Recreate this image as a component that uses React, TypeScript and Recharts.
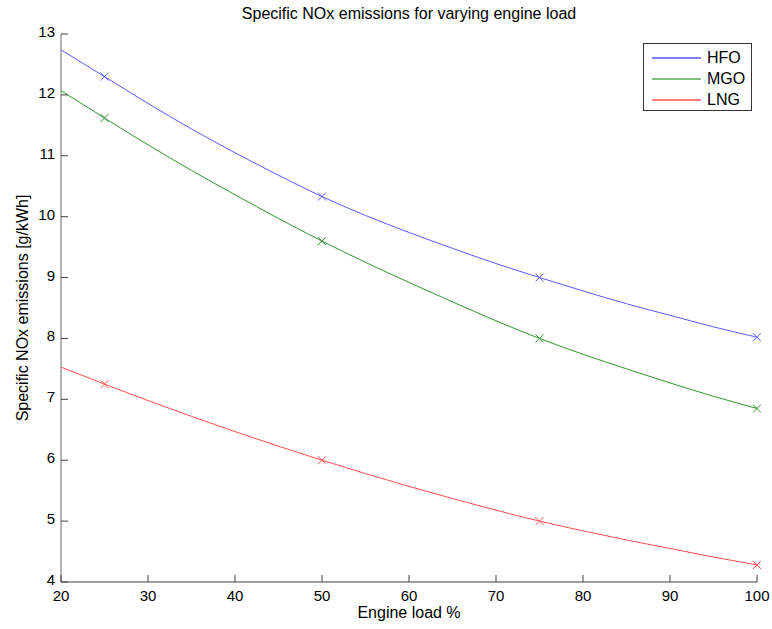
import React from 'react';
import { LineChart, Line, XAxis, YAxis } from 'recharts';

const loads = [20, 25, 30, 35, 40, 45, 50, 55, 60, 65, 70, 75, 80, 85, 90, 95, 100];
const hfo = [12.74, 12.30, 11.86, 11.44, 11.05, 10.68, 10.33, 10.02, 9.74, 9.48, 9.23, 9.00, 8.78, 8.57, 8.38, 8.19, 8.02];
const mgo = [12.07, 11.62, 11.18, 10.76, 10.36, 9.97, 9.60, 9.25, 8.92, 8.60, 8.29, 8.00, 7.74, 7.50, 7.27, 7.05, 6.85];
const lng = [7.53, 7.25, 6.98, 6.72, 6.47, 6.23, 6.00, 5.78, 5.57, 5.37, 5.18, 5.00, 4.84, 4.69, 4.55, 4.41, 4.28];
const markerLoads = [25, 50, 75, 100];
const xTicks = [20, 30, 40, 50, 60, 70, 80, 90, 100];
const yTicks = [4, 5, 6, 7, 8, 9, 10, 11, 12, 13];

const seriesNames = ['HFO', 'MGO', 'LNG'];
const seriesColors = ['#5a5aff', '#2f962f', '#ff5050'];
const legendColors = ['#7f7fff', '#7fbf7f', '#ff7f7f'];

const data = loads.map((l, i) => ({ load: l, HFO: hfo[i], MGO: mgo[i], LNG: lng[i] }));

const FONT = '"Liberation Sans", Arial, Helvetica, sans-serif';

const makeDot = (color: string) => (props: any) => {
  const { cx, cy, payload, index } = props;
  if (!payload || !markerLoads.includes(payload.load)) return <g key={`d${index}`} />;
  const s = 4;
  return (
    <g key={`d${index}`}>
      <line x1={cx - s} y1={cy - s} x2={cx + s} y2={cy + s} stroke={color} strokeWidth={1} />
      <line x1={cx - s} y1={cy + s} x2={cx + s} y2={cy - s} stroke={color} strokeWidth={1} />
    </g>
  );
};

const XTick = (props: any) => {
  const { x, y, payload } = props;
  return (
    <g>
      <line x1={x} y1={y} x2={x} y2={y - 7} stroke="#404040" strokeWidth={1} />
      <text x={x} y={y + 19} textAnchor="middle" fontSize={15} fontFamily={FONT} fill="#000">
        {payload.value}
      </text>
    </g>
  );
};

const YTick = (props: any) => {
  const { x, y, payload } = props;
  return (
    <g>
      <line x1={x} y1={y} x2={x + 7} y2={y} stroke="#404040" strokeWidth={1} />
      <text x={x - 6} y={y + 3} textAnchor="end" fontSize={15} fontFamily={FONT} fill="#000">
        {payload.value}
      </text>
    </g>
  );
};

function LegendBox() {
  return (
    <div
      style={{
        position: 'absolute',
        left: 643,
        top: 43,
        border: '1px solid #333',
        background: '#fff',
        width: 109,
        height: 68,
        boxSizing: 'border-box',
        padding: '3px 0 0 8px',
        fontFamily: FONT,
        fontSize: 16,
      }}
    >
      {seriesNames.map((n, i) => (
        <div key={n} style={{ display: 'flex', alignItems: 'center', height: 21 }}>
          <div style={{ width: 49, height: 2, background: legendColors[i], marginRight: 6 }} />
          <span style={{ color: '#000' }}>{n}</span>
        </div>
      ))}
    </div>
  );
}

export default function App() {
  return (
    <div style={{ position: 'absolute', left: 0, top: 0, width: 772, height: 629, background: '#fff' }}>
      <div
        style={{
          position: 'absolute',
          left: 61,
          width: 696,
          top: 5,
          textAlign: 'center',
          fontFamily: FONT,
          fontSize: 16,
          color: '#000',
        }}
      >
        Specific NOx emissions for varying engine load
      </div>
      <LineChart width={772} height={629} data={data} margin={{ top: 34, right: 15, bottom: 7, left: 0 }}>
        <XAxis
          dataKey="load"
          type="number"
          domain={[20, 100]}
          ticks={xTicks}
          height={40}
          tickSize={0}
          tickMargin={0}
          tickLine={false}
          tick={<XTick />}
          stroke="#404040"
          interval={0}
          label={{ value: 'Engine load %', position: 'insideBottom', offset: 4, fontSize: 16, fontFamily: FONT, fill: '#000' }}
        />
        <YAxis
          type="number"
          domain={[4, 13]}
          ticks={yTicks}
          width={61}
          tickSize={0}
          tickMargin={0}
          tickLine={false}
          tick={<YTick />}
          stroke="#9a9a9a"
          strokeWidth={1.5}
          interval={0}
          label={{
            value: 'Specific NOx emissions [g/kWh]',
            angle: -90,
            position: 'insideLeft',
            offset: 22,
            fontSize: 16,
            fontFamily: FONT,
            fill: '#000',
            style: { textAnchor: 'middle' },
          }}
        />
        {seriesNames.map((n, i) => (
          <Line
            key={n}
            type="monotone"
            dataKey={n}
            stroke={seriesColors[i]}
            strokeWidth={1}
            dot={makeDot(seriesColors[i])}
            activeDot={false}
            isAnimationActive={false}
          />
        ))}
      </LineChart>
      <LegendBox />
    </div>
  );
}
